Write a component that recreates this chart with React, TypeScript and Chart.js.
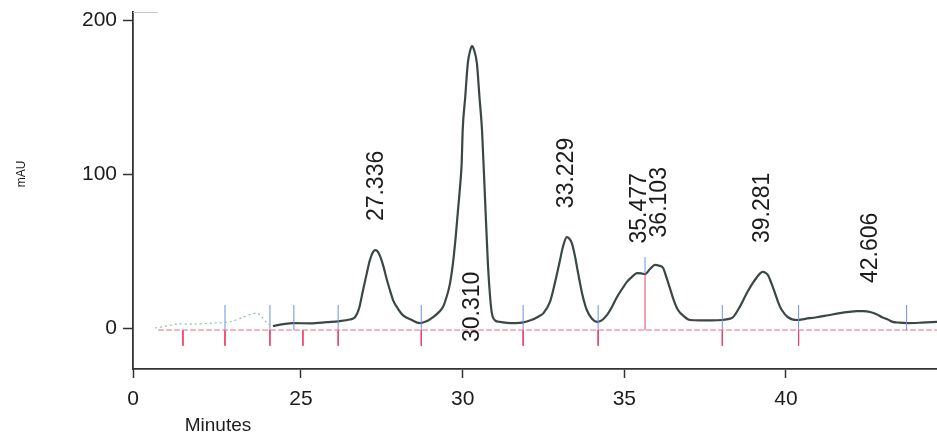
import React, { useEffect, useRef } from "react";
import { Chart, registerables } from "chart.js";

Chart.register(...registerables);

// Chromatogram trace (minutes, mAU)
const traceTime = [24.13, 24.45, 24.75, 25.3, 25.8, 26.2, 26.5, 26.67, 26.8, 26.92, 27.03, 27.13, 27.22, 27.29, 27.36, 27.44, 27.55, 27.66, 27.76, 27.85, 28.0, 28.15, 28.4, 28.68, 28.9, 29.08, 29.25, 29.39, 29.5, 29.6, 29.7, 29.78, 29.85, 29.92, 29.97, 30.0, 30.08, 30.16, 30.23, 30.29, 30.36, 30.44, 30.52, 30.6, 30.69, 30.78, 30.85, 30.9, 31.0, 31.15, 31.5, 31.83, 32.1, 32.35, 32.5, 32.7, 32.85, 33.0, 33.1, 33.22, 33.3, 33.38, 33.48, 33.57, 33.7, 33.84, 34.0, 34.15, 34.3, 34.46, 34.6, 34.77, 34.95, 35.08, 35.25, 35.39, 35.52, 35.64, 35.8, 35.95, 36.08, 36.2, 36.3, 36.4, 36.53, 36.66, 36.85, 37.03, 37.34, 37.7, 38.02, 38.2, 38.36, 38.55, 38.79, 38.95, 39.1, 39.2, 39.28, 39.36, 39.44, 39.55, 39.66, 39.77, 39.87, 40.06, 40.34, 40.6, 40.95, 41.3, 41.67, 41.95, 42.19, 42.4, 42.6, 42.8, 42.97, 43.15, 43.3, 43.5, 43.74, 44.2, 44.67];
const traceMAU = [1.3, 2.5, 3.2, 3.0, 3.8, 4.5, 5.5, 7, 13, 24.7, 35, 44, 49, 50.6, 50, 47, 40, 31, 24, 18, 12.5, 8.4, 5.5, 3.2, 4.5, 7, 10, 13.6, 20, 28, 42, 58, 75, 92, 107, 128, 150, 172, 180, 183, 180, 172, 150, 128, 85, 42, 20, 10, 5, 4, 3.2, 3.5, 5, 7.5, 9.7, 17, 29, 43, 52.6, 59, 58, 55, 46, 35.7, 22, 11.7, 6, 4, 5, 8.4, 13, 20, 26, 30, 33.5, 35.7, 35.5, 35, 38.5, 41, 40.5, 39, 33, 26.6, 18, 11.7, 7.5, 5.2, 5, 5, 5.2, 5.8, 7, 13, 22.7, 28.5, 33, 35.5, 36.4, 36, 34.4, 29, 22.7, 16, 11.7, 7, 5.2, 6, 7, 8.3, 9.7, 10.5, 11, 11, 10.4, 9, 7, 5.5, 4, 3.5, 3.2, 3.5, 4];

// Faint pre-run trace (green dotted)
const preTime = [20.49, 20.9, 21.17, 21.7, 22.28, 22.8, 23.2, 23.45, 23.64, 23.8, 23.95, 24.13];
const preMAU = [0, 1.5, 2.6, 2.5, 3.2, 4, 7, 9, 9.7, 7, 3.2, 1.3];

// Integration baseline
const baselineTime = [20.58, 44.67];
const baselineMAU = [-1.3, -1.3];

// Integration markers
const redMarkTimes = [21.35, 22.65, 24.04, 25.06, 26.15, 28.72, 31.87, 34.19, 38.03, 40.39];
const blueMarkTimes = [22.65, 24.04, 24.78, 26.15, 28.72, 31.87, 34.19, 38.03, 40.39, 43.73];
const markBase = -1.3;
const redMarkEnd = -11.5;
const blueMarkEnd = 15;
const dropTime = 35.64;
const dropTop = 35;
const dropBlueTop = 46;

// Peak labels
const peakTimes = [27.336, 30.31, 33.229, 35.477, 36.103, 39.281, 42.606];
const peakLabels = ["27.336", "30.310", "33.229", "35.477", "36.103", "39.281", "42.606"];
const peakHeights = [50.6, 183, 59, 36, 40, 36.4, 10.4];

// Axes
const xTickValues = [25, 30, 35, 40];
const xBreakLabel = "0";
const yTickValues = [0, 100, 200];
const xMin = 19.805;
const xMax = 44.67;
const yMin = -26.6;
const yMax = 205.2;

const FONT = "'Liberation Sans', Arial, Helvetica, sans-serif";

function pts(xs: number[], ys: number[]) {
  return xs.map((x, i) => ({ x, y: ys[i] }));
}
function markPts(times: number[], from: number, to: number) {
  const out: any[] = [];
  times.forEach((t) => {
    out.push({ x: t, y: from }, { x: t, y: to }, { x: t, y: null });
  });
  return out;
}

const labelsPlugin = {
  id: "peakLabels",
  afterDatasetsDraw(chart: any) {
    const { ctx, scales, chartArea } = chart;
    const xs = scales.x;
    const ys = scales.y;
    ctx.save();
    ctx.fillStyle = "#1c1c1c";
    ctx.font = `23px ${FONT}`;
    ctx.textAlign = "left";
    ctx.textBaseline = "middle";
    peakTimes.forEach((t, i) => {
      const label = peakLabels[i];
      const w = ctx.measureText(label).width;
      const px = xs.getPixelForValue(t);
      let py = ys.getPixelForValue(peakHeights[i]) - 29;
      if (py - w < chartArea.top) {
        py = ys.getPixelForValue(0) + 14;
      }
      ctx.save();
      ctx.translate(px, py);
      ctx.rotate(-Math.PI / 2);
      ctx.fillText(label, 0, 0);
      ctx.restore();
    });
    // axis titles
    ctx.font = `12px ${FONT}`;
    ctx.textAlign = "center";
    ctx.save();
    ctx.translate(22, 174);
    ctx.rotate(-Math.PI / 2);
    ctx.fillText("mAU", 0, 0);
    ctx.restore();
    ctx.font = `19px ${FONT}`;
    ctx.fillText("Minutes", 218, 426);
    // top stub of frame
    ctx.strokeStyle = "#c8c8c8";
    ctx.lineWidth = 1;
    ctx.beginPath();
    ctx.moveTo(chartArea.left, chartArea.top + 0.5);
    ctx.lineTo(chartArea.left + 25, chartArea.top + 0.5);
    ctx.stroke();
    ctx.restore();
  },
};

export default function App() {
  const ref = useRef<HTMLCanvasElement | null>(null);
  useEffect(() => {
    if (!ref.current) return;
    const chart = new Chart(ref.current, {
      type: "line",
      data: {
        datasets: [
          {
            label: "pre",
            data: pts(preTime, preMAU),
            borderColor: "#8cc4a6",
            borderWidth: 1.2,
            borderDash: [2, 3],
            pointRadius: 0,
            tension: 0.3,
          },
          {
            label: "baseline",
            data: pts(baselineTime, baselineMAU),
            borderColor: "#ea6f8c",
            borderWidth: 1,
            borderDash: [6, 2],
            pointRadius: 0,
          },
          {
            label: "red marks",
            data: [...markPts(redMarkTimes, markBase, redMarkEnd), { x: dropTime, y: markBase }, { x: dropTime, y: dropTop }],
            borderColor: "#e8436a",
            borderWidth: 1,
            pointRadius: 0,
            spanGaps: false,
          },
          {
            label: "blue marks",
            data: [...markPts(blueMarkTimes, markBase, blueMarkEnd), { x: dropTime, y: dropTop }, { x: dropTime, y: dropBlueTop }],
            borderColor: "#6f8fe0",
            borderWidth: 1,
            pointRadius: 0,
            spanGaps: false,
          },
          {
            label: "trace",
            data: pts(traceTime, traceMAU),
            borderColor: "#3b4646",
            borderWidth: 2.2,
            pointRadius: 0,
            cubicInterpolationMode: "monotone",
          },
        ],
      },
      options: {
        responsive: false,
        animation: false,
        events: [],
        layout: { padding: { top: 12, right: 0, left: 0, bottom: 0 } },
        plugins: { legend: { display: false }, tooltip: { enabled: false }, title: { display: false } },
        scales: {
          x: {
            type: "linear",
            min: xMin,
            max: xMax,
            afterBuildTicks: (scale: any) => {
              scale.ticks = [{ value: xMin }, ...xTickValues.map((v) => ({ value: v }))];
            },
            afterFit: (scale: any) => {
              scale.height = 68;
              scale.paddingLeft = 0;
              scale.paddingRight = 0;
            },
            ticks: {
              autoSkip: false,
              maxRotation: 0,
              padding: 9,
              color: "#1c1c1c",
              font: { family: FONT, size: 21 },
              callback: (v: any) => (Math.abs(v - xMin) < 1e-6 ? xBreakLabel : String(v)),
            },
            grid: { drawOnChartArea: false, tickLength: 9, color: "#333", tickWidth: 1.5 },
            border: { display: true, color: "#333", width: 1.8 },
          },
          y: {
            type: "linear",
            min: yMin,
            max: yMax,
            afterBuildTicks: (scale: any) => {
              scale.ticks = yTickValues.map((v) => ({ value: v }));
            },
            afterFit: (scale: any) => {
              scale.width = 133;
              scale.paddingTop = 0;
              scale.paddingBottom = 0;
            },
            ticks: {
              padding: 6,
              color: "#1c1c1c",
              font: { family: FONT, size: 21 },
            },
            grid: { drawOnChartArea: false, tickLength: 10, color: "#333", tickWidth: 1.5 },
            border: { display: true, color: "#333", width: 1.8 },
          },
        },
      },
      plugins: [labelsPlugin],
    });
    return () => chart.destroy();
  }, []);
  return (
    <div style={{ position: "fixed", left: 0, top: 0, width: 937, height: 437, background: "#fff" }}>
      <canvas ref={ref} width={937} height={437} style={{ display: "block", width: 937, height: 437 }} />
    </div>
  );
}
